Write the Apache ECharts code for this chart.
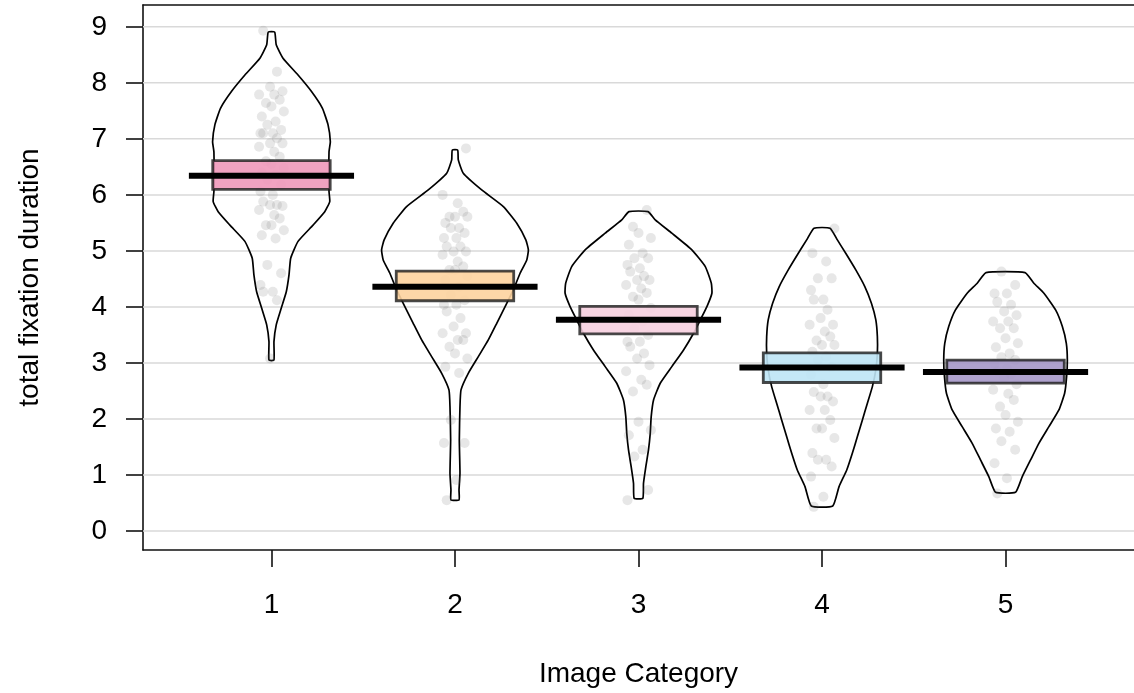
<!DOCTYPE html>
<html>
<head>
<meta charset="utf-8">
<script src="https://cdn.jsdelivr.net/npm/echarts@6/dist/echarts.min.js"></script>
<style>
html,body{margin:0;padding:0;background:#fff;}
#chart{width:1134px;height:693px;}
</style>
</head>
<body>
<div id="chart"></div>
<script>
// ---------------- data ----------------
const categories = ['1', '2', '3', '4', '5'];
const yTicks = [0, 1, 2, 3, 4, 5, 6, 7, 8, 9];
const xTitle = 'Image Category';
const yTitle = 'total fixation duration';

// mean (average line) and inference band per category
const means   = [6.34, 4.36, 3.77, 2.92, 2.84];
const infLow  = [6.10, 4.11, 3.52, 2.65, 2.64];
const infHigh = [6.61, 4.64, 4.01, 3.18, 3.05];

// bean (density) outlines: y levels and relative density (1 = widest bean)
const beanY1 = [8.905, 8.68, 8.44, 8.14, 7.85, 7.55, 7.25, 6.95, 6.77, 6.06, 5.88, 5.70, 5.46, 5.17, 4.87, 4.57, 4.27, 3.98, 3.68, 3.38, 3.05];
const beanD1 = [0.044, 0.065, 0.157, 0.362, 0.543, 0.693, 0.771, 0.802, 0.784, 0.784, 0.794, 0.726, 0.566, 0.362, 0.262, 0.239, 0.202, 0.134, 0.065, 0.034, 0.034];
const beanY2 = [6.80, 6.625, 6.387, 6.089, 5.792, 5.494, 5.196, 5.018, 4.839, 4.601, 4.304, 4.065, 3.708, 3.411, 3.113, 2.815, 2.518, 2.220, 1.625, 1.030, 0.732, 0.554];
const beanD2 = [0.037, 0.045, 0.113, 0.364, 0.659, 0.842, 0.965, 1.0, 0.978, 0.887, 0.795, 0.705, 0.569, 0.454, 0.318, 0.181, 0.082, 0.068, 0.059, 0.068, 0.055, 0.055];
const beanY3 = [5.702, 5.554, 5.316, 5.018, 4.720, 4.423, 4.244, 4.006, 3.768, 3.530, 3.232, 2.934, 2.637, 2.339, 2.042, 1.744, 1.446, 1.149, 0.851, 0.583];
const beanD3 = [0.130, 0.228, 0.454, 0.727, 0.910, 0.992, 1.0, 0.932, 0.842, 0.750, 0.614, 0.454, 0.296, 0.205, 0.173, 0.160, 0.136, 0.100, 0.068, 0.059];
const beanY4 = [5.405, 5.196, 4.958, 4.661, 4.363, 4.065, 3.768, 3.470, 3.173, 2.875, 2.577, 2.280, 1.982, 1.685, 1.387, 1.089, 0.792, 0.446];
const beanD4 = [0.109, 0.209, 0.323, 0.460, 0.583, 0.673, 0.733, 0.754, 0.754, 0.733, 0.686, 0.618, 0.550, 0.482, 0.413, 0.337, 0.232, 0.146];
const beanY5 = [4.613, 4.423, 4.244, 3.946, 3.649, 3.351, 3.054, 2.756, 2.458, 2.161, 1.863, 1.565, 1.268, 0.970, 0.690];
const beanD5 = [0.266, 0.386, 0.523, 0.682, 0.774, 0.828, 0.842, 0.832, 0.805, 0.727, 0.591, 0.454, 0.341, 0.228, 0.136];

// raw observations (jittered points)
const points1 = [8.93, 8.20, 7.93, 7.85, 7.79, 7.79, 7.70, 7.64, 7.58, 7.49, 7.40, 7.31, 7.25, 7.16, 7.10, 7.10, 7.10, 7.01, 6.92, 6.92, 6.86, 6.77, 6.68, 6.60, 6.55, 6.48, 6.40, 6.36, 6.27, 6.18, 6.06, 6.00, 5.88, 5.82, 5.82, 5.80, 5.73, 5.64, 5.58, 5.46, 5.46, 5.37, 5.28, 5.22, 4.75, 4.60, 4.39, 4.27, 4.27, 4.12, 3.08];
const points2 = [6.83, 6.00, 5.85, 5.70, 5.61, 5.61, 5.61, 5.50, 5.41, 5.41, 5.32, 5.23, 5.23, 5.08, 5.08, 4.99, 4.99, 4.93, 4.81, 4.72, 4.66, 4.66, 4.55, 4.48, 4.36, 4.21, 4.12, 4.04, 4.04, 3.92, 3.80, 3.65, 3.53, 3.53, 3.41, 3.41, 3.29, 3.17, 3.08, 2.93, 2.82, 1.98, 1.57, 1.57, 0.91, 0.55];
const points3 = [5.73, 5.43, 5.32, 5.23, 5.11, 4.96, 4.87, 4.87, 4.75, 4.69, 4.63, 4.55, 4.48, 4.48, 4.39, 4.33, 4.25, 4.18, 4.13, 3.98, 3.86, 3.74, 3.62, 3.50, 3.38, 3.38, 3.29, 3.17, 3.08, 2.96, 2.85, 2.70, 2.61, 2.49, 1.95, 1.80, 1.71, 1.45, 1.33, 0.73, 0.55];
const points4 = [5.40, 4.96, 4.81, 4.51, 4.51, 4.30, 4.13, 4.13, 3.95, 3.80, 3.68, 3.68, 3.56, 3.47, 3.40, 3.32, 3.32, 3.20, 3.11, 3.05, 2.93, 2.79, 2.62, 2.48, 2.40, 2.40, 2.31, 2.16, 2.16, 1.98, 1.83, 1.83, 1.66, 1.39, 1.27, 1.27, 1.15, 0.97, 0.61, 0.43];
const points5 = [4.63, 4.39, 4.24, 4.24, 4.09, 4.04, 3.92, 3.85, 3.74, 3.74, 3.62, 3.62, 3.44, 3.35, 3.28, 3.17, 3.10, 3.05, 2.98, 2.90, 2.85, 2.80, 2.73, 2.62, 2.52, 2.45, 2.34, 2.22, 2.07, 1.95, 1.83, 1.77, 1.60, 1.45, 1.21, 0.94, 0.67];

// fixed jitter pattern (fractions of the jitter width)
const jitterPattern = [-0.6, 0.4, -0.1, 0.8, -0.9, 0.2, 0.6, -0.4, 0.0, 0.9, -0.7, 0.3, -0.3, 0.7, -0.8, 0.1];

const barColors = ['#EF98BA', '#FDD39E', '#F6CFDF', '#BEE4F5', '#A597C8'];

// --------------- build ----------------
const beansY = [beanY1, beanY2, beanY3, beanY4, beanY5];
const beansD = [beanD1, beanD2, beanD3, beanD4, beanD5];
const allPoints = [points1, points2, points3, points4, points5];

const X_MIN = 0.3, X_MAX = 5.7, Y_MIN = -0.34, Y_MAX = 9.39;
const BEAN_HALF = 0.40, BOX_HALF = 0.32, AVG_HALF = 0.45, JITTER = 0.075;
const FONT = '"Liberation Sans", Arial, Helvetica, sans-serif';

const scatterData = [];
allPoints.forEach((arr, i) => {
  arr.forEach((v, k) => {
    scatterData.push([i + 1 + jitterPattern[(k + i * 3) % jitterPattern.length] * JITTER, v]);
  });
});

const catData = categories.map((c, i) => [i + 1, means[i]]);

const chart = echarts.init(document.getElementById('chart'), null, {renderer: 'canvas'});

const option = {
  animation: false,
  backgroundColor: '#fff',
  grid: {left: 143, right: 0, top: 5, bottom: 143, containLabel: false},
  xAxis: [{
    type: 'value', min: X_MIN, max: X_MAX,
    name: xTitle, nameLocation: 'middle', nameGap: 110,
    nameTextStyle: {fontFamily: FONT, fontSize: 28, color: '#000'},
    axisLine: {show: true, onZero: false, lineStyle: {color: '#111', width: 1.6}},
    axisTick: {show: true, length: 17, customValues: categories.map((c, i) => i + 1), lineStyle: {color: '#111', width: 1.6}},
    axisLabel: {show: true, margin: 41, fontFamily: FONT, fontSize: 28, color: '#000',
      customValues: categories.map((c, i) => i + 1),
      formatter: v => categories[Math.round(v) - 1]},
    splitLine: {show: false}
  }, {
    type: 'value', min: X_MIN, max: X_MAX, position: 'top',
    axisLine: {show: true, onZero: false, lineStyle: {color: '#111', width: 1.6}},
    axisTick: {show: false}, axisLabel: {show: false}, splitLine: {show: false}
  }],
  yAxis: {
    type: 'value', min: Y_MIN, max: Y_MAX,
    name: yTitle, nameLocation: 'middle', nameGap: 99,
    nameTextStyle: {fontFamily: FONT, fontSize: 28, color: '#000'},
    axisLine: {show: true, onZero: false, lineStyle: {color: '#111', width: 1.6}},
    axisTick: {show: true, length: 17, customValues: yTicks, lineStyle: {color: '#111', width: 1.6}},
    axisLabel: {show: true, margin: 36, fontFamily: FONT, fontSize: 28, color: '#000',
      customValues: yTicks},
    splitLine: {show: false}
  },
  series: [
    { // horizontal reference lines
      type: 'custom', z: 1, silent: true,
      data: yTicks.map(t => [X_MIN, t]),
      renderItem: (params, api) => {
        const y = api.value(1);
        const p1 = api.coord([X_MIN, y]);
        const p2 = api.coord([X_MAX, y]);
        return {type: 'line', shape: {x1: p1[0], y1: p1[1], x2: p2[0], y2: p2[1]},
          style: {stroke: '#d9d9d9', lineWidth: 1.5}};
      }
    },
    { // beans
      type: 'custom', z: 2, silent: true,
      data: catData,
      renderItem: (params, api) => {
        const cx = api.value(0);
        const i = Math.round(cx) - 1;
        const ys = beansY[i], ds = beansD[i];
        const pts = [];
        for (let k = 0; k < ys.length; k++) pts.push(api.coord([cx - ds[k] * BEAN_HALF, ys[k]]));
        for (let k = ys.length - 1; k >= 0; k--) pts.push(api.coord([cx + ds[k] * BEAN_HALF, ys[k]]));
        return {type: 'polygon', shape: {points: pts, smooth: 0.15},
          style: {fill: 'rgba(255,255,255,0)', stroke: '#000', lineWidth: 1.7}};
      }
    },
    { // raw points
      type: 'scatter', z: 3, silent: true,
      symbol: 'circle', symbolSize: 10,
      itemStyle: {color: 'rgba(105,105,105,0.2)'},
      data: scatterData
    },
    { // inference bands
      type: 'custom', z: 4, silent: true,
      data: catData,
      renderItem: (params, api) => {
        const cx = api.value(0);
        const i = Math.round(cx) - 1;
        const a = api.coord([cx - BOX_HALF, infHigh[i]]);
        const b = api.coord([cx + BOX_HALF, infLow[i]]);
        return {type: 'rect', shape: {x: a[0], y: a[1], width: b[0] - a[0], height: b[1] - a[1]},
          style: {fill: barColors[i], opacity: 0.9, stroke: 'rgba(30,30,30,0.9)', lineWidth: 2.8}};
      }
    },
    { // average lines
      type: 'custom', z: 5, silent: true,
      data: catData,
      renderItem: (params, api) => {
        const cx = api.value(0);
        const m = api.value(1);
        const a = api.coord([cx - AVG_HALF, m]);
        const b = api.coord([cx + AVG_HALF, m]);
        return {type: 'line', shape: {x1: a[0], y1: a[1], x2: b[0], y2: b[1]},
          style: {stroke: '#000', lineWidth: 6}};
      }
    }
  ]
};
chart.setOption(option);
</script>
</body>
</html>
